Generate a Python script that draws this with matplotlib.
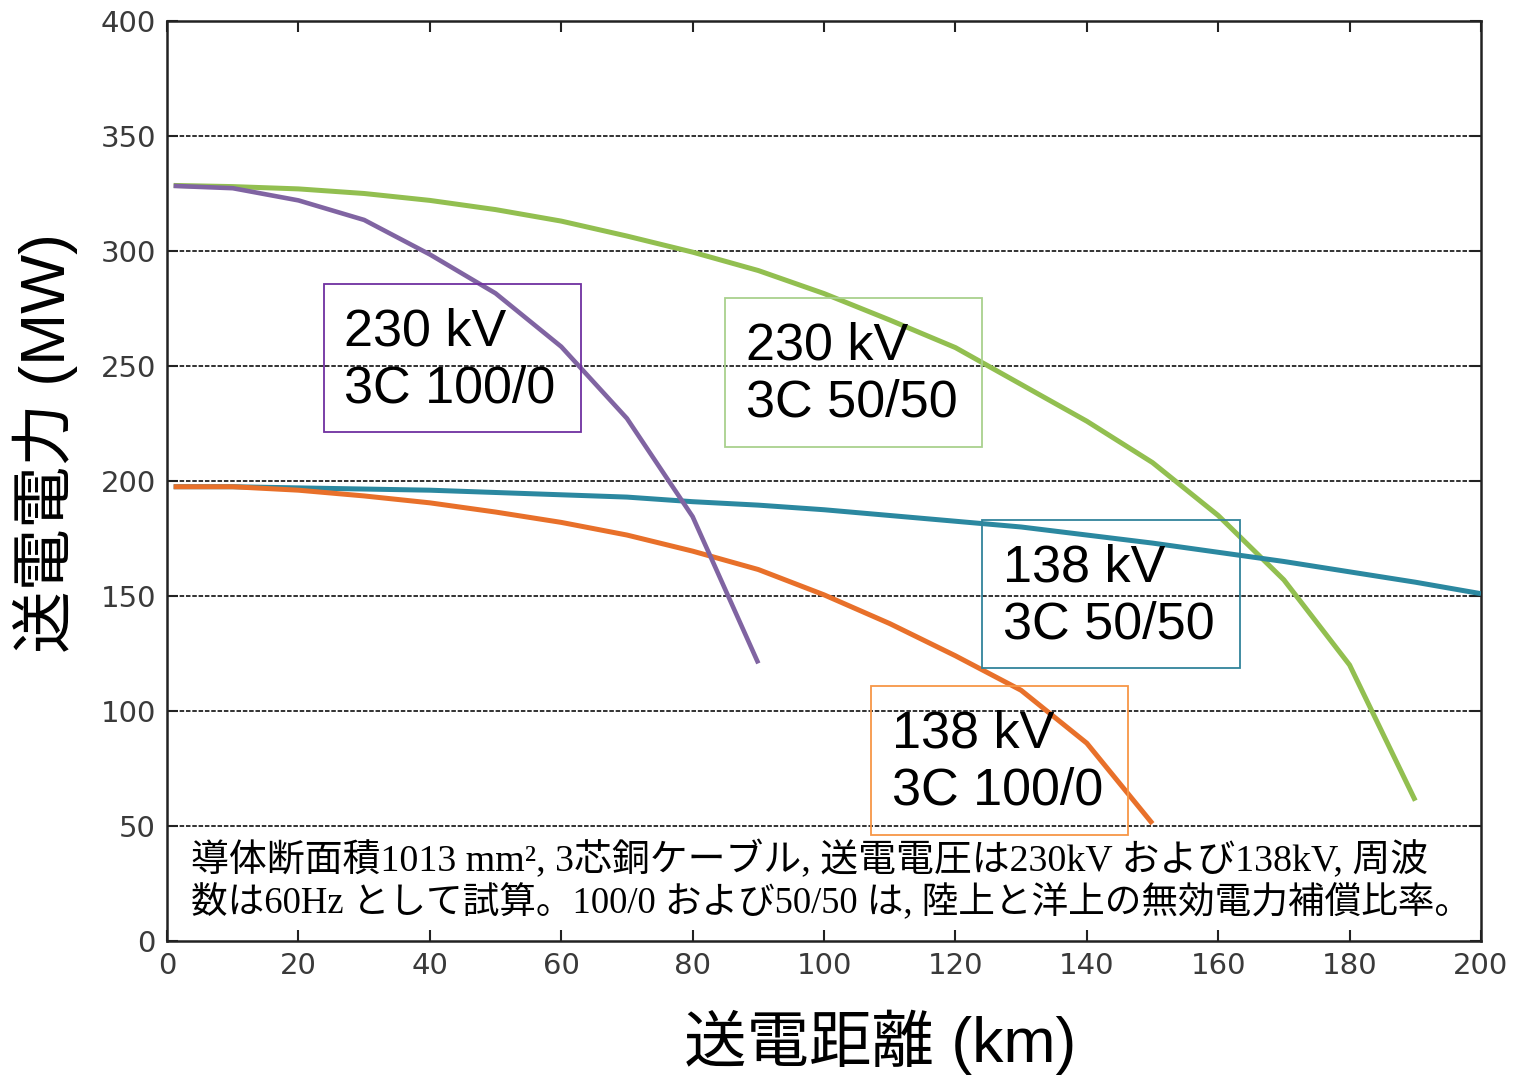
import matplotlib
matplotlib.use("Agg")
import matplotlib.pyplot as plt
from matplotlib.patches import Rectangle

# ---- data ----
dist_230_100 = [1, 10, 20, 30, 40, 50, 60, 70, 80, 90]
pow_230_100 = [328.3, 327.3, 322, 313.5, 298.5, 281.6, 258.4, 227.2, 184.5, 120.7]

dist_230_50 = [1, 10, 20, 30, 40, 50, 60, 70, 80, 90, 100, 110, 120, 130, 140, 150, 160, 170, 180, 190]
pow_230_50 = [328.5, 328, 327, 325, 322, 318, 313, 306.5, 299.5, 291.5, 281.5, 270, 258, 242, 226, 208, 185, 157, 120, 61]

dist_138_50 = [1, 10, 20, 30, 40, 50, 60, 70, 80, 90, 100, 110, 120, 130, 140, 150, 160, 170, 180, 190, 200]
pow_138_50 = [197.5, 197.5, 197, 196.5, 196, 195, 194, 193, 191, 189.5, 187.5, 185, 182.5, 180, 176.5, 173, 169, 165, 160.5, 156, 151]

dist_138_100 = [1, 10, 20, 30, 40, 50, 60, 70, 80, 90, 100, 110, 120, 130, 140, 150]
pow_138_100 = [197.5, 197.5, 196, 193.5, 190.5, 186.5, 182, 176.5, 169.5, 161.5, 150.5, 138, 124, 109, 86, 51]

label_230_100 = "230 kV\n3C 100/0"
label_230_50 = "230 kV\n3C 50/50"
label_138_50 = "138 kV\n3C 50/50"
label_138_100 = "138 kV\n3C 100/0"

x_ticks = [0, 20, 40, 60, 80, 100, 120, 140, 160, 180, 200]
y_ticks = [0, 50, 100, 150, 200, 250, 300, 350, 400]
grid_levels = [50, 100, 150, 200, 250, 300, 350]

xlabel = "送電距離 (km)"
ylabel = "送電電力 (MW)"
note_line1 = "導体断面積1013 mm², 3芯銅ケーブル, 送電電圧は230kV および138kV, 周波"
note_line2 = "数は60Hz として試算。100/0 および50/50 は, 陸上と洋上の無効電力補償比率。"

# ---- figure ----
fig = plt.figure(figsize=(15.16, 10.77), dpi=100)
ax = fig.add_axes([0.1102, 0.1263, 0.8667, 0.8542])
ax.set_xlim(0, 200)
ax.set_ylim(0, 400)

for g in grid_levels:
    ax.axhline(g, color="#222222", lw=1.3, ls=(0, (2.5, 1.0)), zorder=1)

c_purple = "#8064a2"
c_green = "#92bf50"
c_teal = "#2b88a0"
c_orange = "#e8702a"

ax.plot(dist_230_50, pow_230_50, color=c_green, lw=3.6, zorder=3, solid_capstyle="butt")
ax.plot(dist_138_50, pow_138_50, color=c_teal, lw=3.6, zorder=3, solid_capstyle="butt")
ax.plot(dist_138_100, pow_138_100, color=c_orange, lw=3.6, zorder=3, solid_capstyle="butt")
ax.plot(dist_230_100, pow_230_100, color=c_purple, lw=3.3, zorder=3, solid_capstyle="butt")

# annotation boxes
boxes = [
    ((23.9, 221.3), 39.1, 64.4, "#7030a0", 26.9, 252.5, label_230_100),
    ((85.0, 214.8), 39.1, 64.8, "#a9d18e", 88.1, 246.4, label_230_50),
    ((124.1, 118.7), 39.2, 64.3, "#31849b", 127.3, 149.9, label_138_50),
    ((107.2, 46.1), 39.1, 64.8, "#f79646", 110.3, 77.7, label_138_100),
]
for (xy, w, h, ec, tx, ty, txt) in boxes:
    ax.add_patch(Rectangle(xy, w, h, fill=False, ec=ec, lw=1.3, zorder=4))
    ax.text(tx, ty, txt, ha="left", va="center", fontsize=37.5,
            family=["Liberation Sans", "Noto Sans CJK JP"], linespacing=1.2,
            color="black", zorder=5)

ax.text(3.65, 35.2, note_line1, ha="left", va="center", fontsize=27.3,
        family=["Liberation Serif", "Noto Sans CJK JP"], zorder=5)
ax.text(3.65, 16.5, note_line2, ha="left", va="center", fontsize=26.4,
        family=["Liberation Serif", "Noto Sans CJK JP"], zorder=5)

ax.set_xticks(x_ticks)
ax.set_yticks(y_ticks)
ax.tick_params(direction="in", length=8, width=1.5, top=True, right=True,
               labelsize=21, labelcolor="#3a3a3a", pad=8, color="#222222")
for s in ax.spines.values():
    s.set_linewidth(1.8)
    s.set_color("#222222")

ax.set_xlabel(xlabel, fontsize=45, family=["Liberation Sans", "Noto Sans CJK JP"])
ax.set_ylabel(ylabel, fontsize=45, family=["Liberation Sans", "Noto Sans CJK JP"])
ax.xaxis.set_label_coords(0.543, -0.075)
ax.yaxis.set_label_coords(-0.0677, 0.541)

fig.savefig("out.png", dpi=100)
